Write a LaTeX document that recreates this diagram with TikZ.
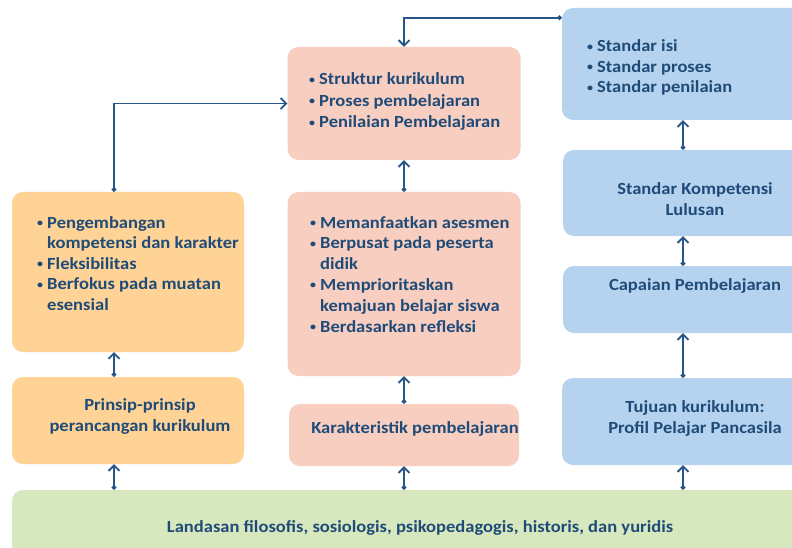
\documentclass[tikz,border=0pt]{standalone}
\usepackage{fontspec}
\setmainfont{Carlito}[FakeStretch=1.09]
\usetikzlibrary{arrows.meta}
\definecolor{boxorange}{RGB}{255,211,150}
\definecolor{boxpink}{RGB}{248,206,192}
\definecolor{boxblue}{RGB}{181,211,238}
\definecolor{boxgreen}{RGB}{216,232,190}
\definecolor{txtblue}{RGB}{31,75,120}
\definecolor{lineblue}{RGB}{40,86,134}
\newcommand{\bl}{\makebox[10pt][l]{\raisebox{1.5pt}{\fontsize{11}{11}\selectfont\textbullet}}}
\newcommand{\ind}{\hspace*{10pt}}
\tikzset{
	x=1pt, y=-1pt, % one unit is one pixel of the layout, y runs downwards
	box/.style={rounded corners=11pt, inner sep=0pt}, % plain rounded panel
	obox/.style={box, fill=boxorange},
	pbox/.style={box, fill=boxpink},
	bbox/.style={box, fill=boxblue},
	gbox/.style={box, fill=boxgreen},
	txt/.style={font=\bfseries\fontsize{17}{20.5}\selectfont, text=txtblue, inner sep=0pt}, % all labels
	lst/.style={txt, align=left, anchor=base west}, % bullet lists, placed by their last line
	mid/.style={txt, align=center, anchor=base}, % centred titles, placed by their last line
	link/.style={draw=lineblue, line width=1.8pt, {Circle[length=4.5pt]}-{Straight Barb[length=5.5pt,width=11pt]}}, % dot at the start, open head at the end
}
\begin{document}
\begin{tikzpicture}
	\useasboundingbox (0,0) rectangle (792,548);
	\clip (0,0) rectangle (792,548);
	% panels
	\node[obox, minimum width=232pt, minimum height=160pt] (L1) at (128,272) {};
	\node[obox, minimum width=232pt, minimum height=87pt] (L2) at (128,420.5) {};
	\node[pbox, minimum width=233pt, minimum height=113pt] (M1) at (404,103.5) {};
	\node[pbox, minimum width=233pt, minimum height=184pt] (M2) at (404,284) {};
	\node[pbox, minimum width=230pt, minimum height=62pt] (M3) at (404,435) {};
	\node[bbox, minimum width=264pt, minimum height=112pt] (R1) at (694,64) {};
	\node[bbox, minimum width=262pt, minimum height=86pt] (R2) at (694,193) {};
	\node[bbox, minimum width=262pt, minimum height=67pt] (R3) at (694,299.5) {};
	\node[bbox, minimum width=264pt, minimum height=87pt] (R4) at (694,421.5) {};
	\node[gbox, minimum width=818pt, minimum height=80pt] (G) at (421,530) {};
	% connectors
	\coordinate (la) at ([xshift=-14pt]L2.south);
	\coordinate (ra) at ([xshift=-11pt]R4.south);
	\draw[link] (G.north -| la) -- (la);
	\draw[link] ([xshift=-14pt]L2.north) -- ([xshift=-14pt]L1.south);
	\draw[link] ([xshift=-14pt]L1.north) |- (M1.west);
	\draw[link] (G.north -| M3.south) -- (M3.south);
	\draw[link] (M3.north) -- (M2.south);
	\draw[link] (M2.north) -- (M1.south);
	\draw[link] ([yshift=-10pt]R1.north west) -| (M1.north);
	\draw[link] (G.north -| ra) -- (ra);
	\draw[link] ([xshift=-11pt]R4.north) -- ([xshift=-11pt]R3.south);
	\draw[link] ([xshift=-11pt]R3.north) -- ([xshift=-11pt]R2.south);
	\draw[link] ([xshift=-11pt]R2.north) -- ([xshift=-11pt]R1.south);
	% texts
	\node[lst] (L1t) at (37,310) {\bl Pengembangan\\\ind kompetensi dan karakter\\\bl Fleksibilitas\\\bl Berfokus pada muatan\\\ind esensial};
	\node[mid] (L2t) at (140,431) {Prinsip-prinsip\\perancangan kurikulum};
	\node[lst, font=\bfseries\fontsize{17}{21.5}\selectfont] (M1t) at (309,128) {\bl Struktur kurikulum\\\bl Proses pembelajaran\\\bl Penilaian Pembelajaran};
	\node[lst, font=\bfseries\fontsize{17}{20.8}\selectfont] (M2t) at (310,332) {\bl Memanfaatkan asesmen\\\bl Berpusat pada peserta\\\ind didik\\\bl Memprioritaskan\\\ind kemajuan belajar siswa\\\bl Berdasarkan refleksi};
	\node[mid] (M3t) at (415,433) {Karakteristik pembelajaran};
	\node[lst] (R1t) at (587,93) {\bl Standar isi\\\bl Standar proses\\\bl Standar penilaian};
	\node[mid] (R2t) at (695,215) {Standar Kompetensi\\Lulusan};
	\node[mid] (R3t) at (695,290) {Capaian Pembelajaran};
	\node[mid] (R4t) at (695,433) {Tujuan kurikulum:\\Profil Pelajar Pancasila};
	\node[mid] (Gt) at (420,532) {Landasan filosofis, sosiologis, psikopedagogis, historis, dan yuridis};
\end{tikzpicture}
\end{document}
